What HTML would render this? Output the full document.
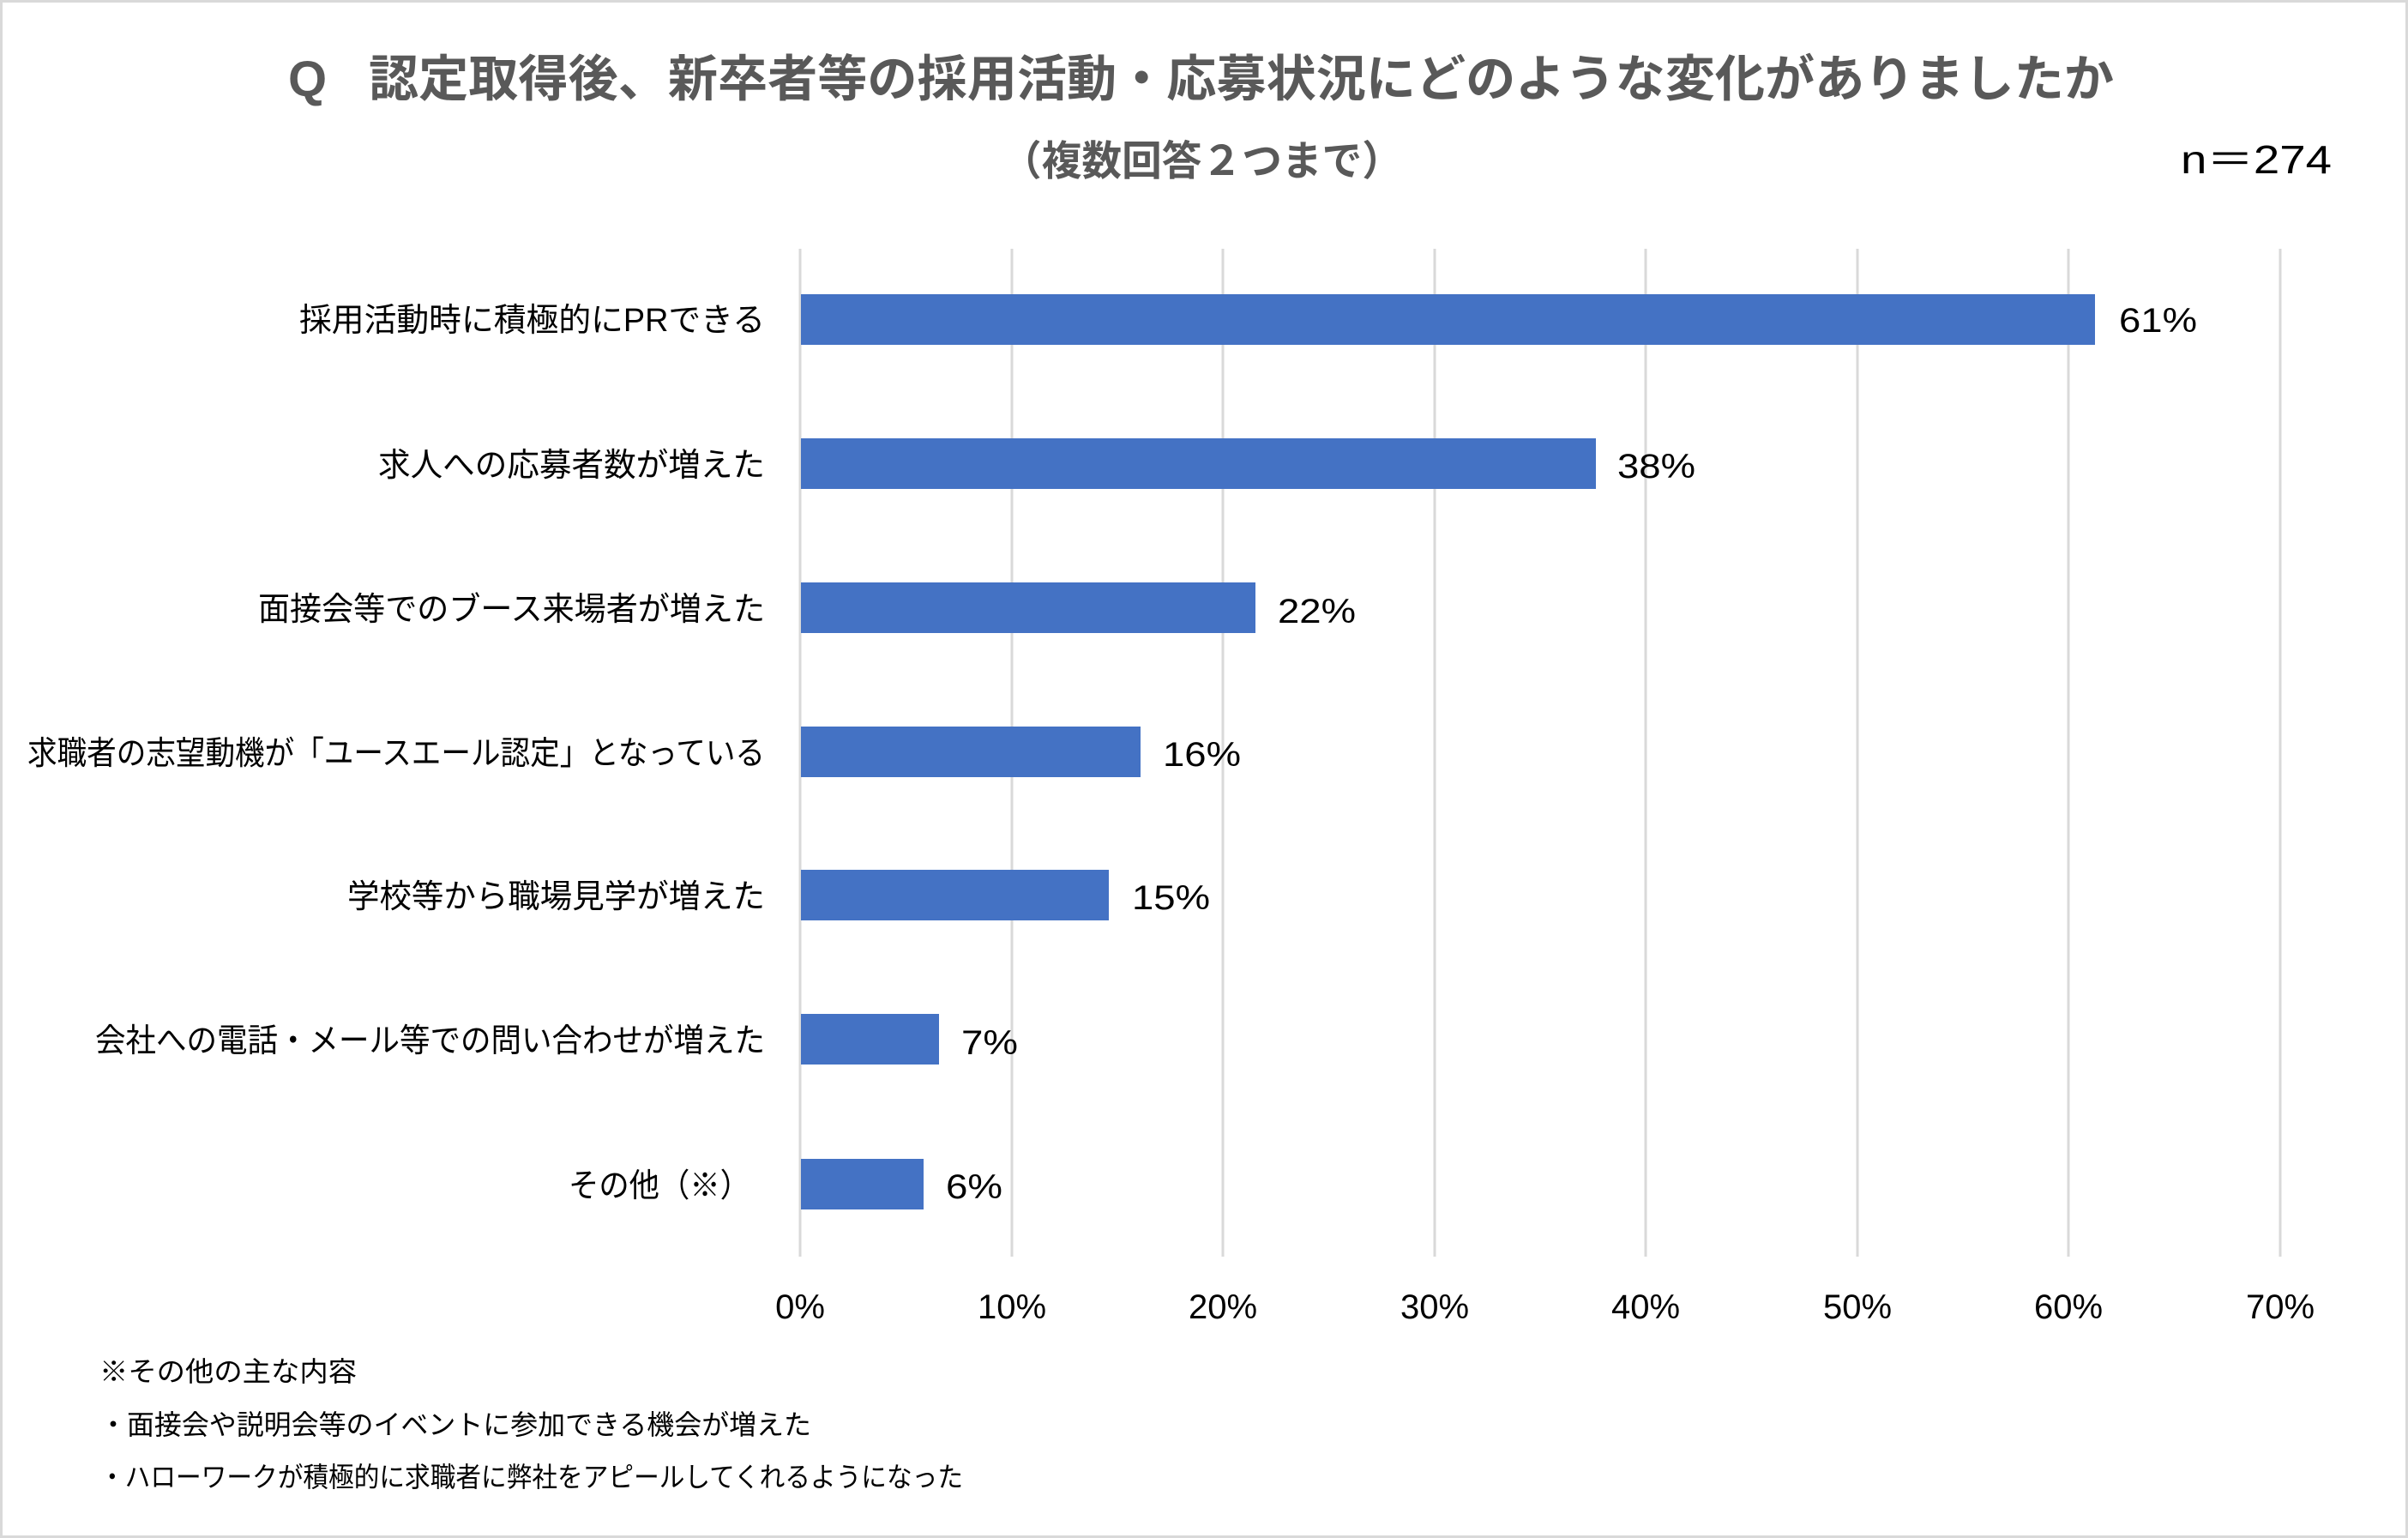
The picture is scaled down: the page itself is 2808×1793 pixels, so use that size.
<!DOCTYPE html>
<html><head><meta charset="utf-8"><style>
html,body{margin:0;padding:0;background:#fff}
svg{display:block}
text{font-family:"Liberation Sans","Noto Sans CJK JP",sans-serif}
</style></head><body>
<svg width="2808" height="1793" viewBox="0 0 2808 1793" xmlns="http://www.w3.org/2000/svg">
<rect x="1.5" y="1.5" width="2805" height="1790" fill="#fff" stroke="#d9d9d9" stroke-width="3"/>
<text x="336" y="112" font-size="58" font-weight="bold" fill="#595959">Q</text>
<text x="430" y="112" font-size="58" font-weight="bold" fill="#595959" textLength="2035" lengthAdjust="spacingAndGlyphs">認定取得後、新卒者等の採用活動・応募状況にどのような変化がありましたか</text>
<text x="1168" y="204" font-size="48" font-weight="bold" fill="#595959" textLength="467" lengthAdjust="spacingAndGlyphs">（複数回答２つまで）</text>
<text x="2543" y="202" font-size="46" fill="#000" textLength="176" lengthAdjust="spacingAndGlyphs">n＝274</text>
<g stroke="#d9d9d9" stroke-width="3">
<line x1="933" y1="290" x2="933" y2="1465"/>
<line x1="1180" y1="290" x2="1180" y2="1465"/>
<line x1="1426" y1="290" x2="1426" y2="1465"/>
<line x1="1673" y1="290" x2="1673" y2="1465"/>
<line x1="1919" y1="290" x2="1919" y2="1465"/>
<line x1="2166" y1="290" x2="2166" y2="1465"/>
<line x1="2412" y1="290" x2="2412" y2="1465"/>
<line x1="2659" y1="290" x2="2659" y2="1465"/>
</g>
<g fill="#4472c4">
<rect x="934" y="343" width="1509" height="59"/>
<rect x="934" y="511" width="927" height="59"/>
<rect x="934" y="679" width="530" height="59"/>
<rect x="934" y="847" width="396" height="59"/>
<rect x="934" y="1014" width="359" height="59"/>
<rect x="934" y="1182" width="161" height="59"/>
<rect x="934" y="1351" width="143" height="59"/>
</g>
<g font-size="40" fill="#000" lengthAdjust="spacingAndGlyphs">
<text x="2471" y="387" textLength="91" lengthAdjust="spacingAndGlyphs">61%</text>
<text x="1886" y="557" textLength="91" lengthAdjust="spacingAndGlyphs">38%</text>
<text x="1490" y="726" textLength="91" lengthAdjust="spacingAndGlyphs">22%</text>
<text x="1356" y="893" textLength="91" lengthAdjust="spacingAndGlyphs">16%</text>
<text x="1320" y="1060" textLength="91" lengthAdjust="spacingAndGlyphs">15%</text>
<text x="1121" y="1229" textLength="66" lengthAdjust="spacingAndGlyphs">7%</text>
<text x="1103" y="1397" textLength="66" lengthAdjust="spacingAndGlyphs">6%</text>
</g>
<g font-size="38" fill="#000">
<text x="349" y="386" textLength="543" lengthAdjust="spacingAndGlyphs">採用活動時に積極的にPRできる</text>
<text x="441" y="555" textLength="451" lengthAdjust="spacingAndGlyphs">求人への応募者数が増えた</text>
<text x="301" y="723" textLength="591" lengthAdjust="spacingAndGlyphs">面接会等でのブース来場者が増えた</text>
<text x="32" y="891" textLength="860" lengthAdjust="spacingAndGlyphs">求職者の志望動機が「ユースエール認定」となっている</text>
<text x="405" y="1058" textLength="487" lengthAdjust="spacingAndGlyphs">学校等から職場見学が増えた</text>
<text x="111" y="1226" textLength="781" lengthAdjust="spacingAndGlyphs">会社への電話・メール等での問い合わせが増えた</text>
<text x="663" y="1395" textLength="212" lengthAdjust="spacingAndGlyphs">その他（※）</text>
</g>
<g font-size="40" fill="#000" text-anchor="middle">
<text x="933" y="1537">0%</text>
<text x="1180" y="1537">10%</text>
<text x="1426" y="1537">20%</text>
<text x="1673" y="1537">30%</text>
<text x="1919" y="1537">40%</text>
<text x="2166" y="1537">50%</text>
<text x="2412" y="1537">60%</text>
<text x="2659" y="1537">70%</text>
</g>
<g font-size="32" fill="#000">
<text x="116" y="1610" textLength="300" lengthAdjust="spacingAndGlyphs">※その他の主な内容</text>
<text x="116" y="1672" textLength="830" lengthAdjust="spacingAndGlyphs">・面接会や説明会等のイベントに参加できる機会が増えた</text>
<text x="116" y="1733" textLength="1007" lengthAdjust="spacingAndGlyphs">・ハローワークが積極的に求職者に弊社をアピールしてくれるようになった</text>
</g>
</svg>
</body></html>
